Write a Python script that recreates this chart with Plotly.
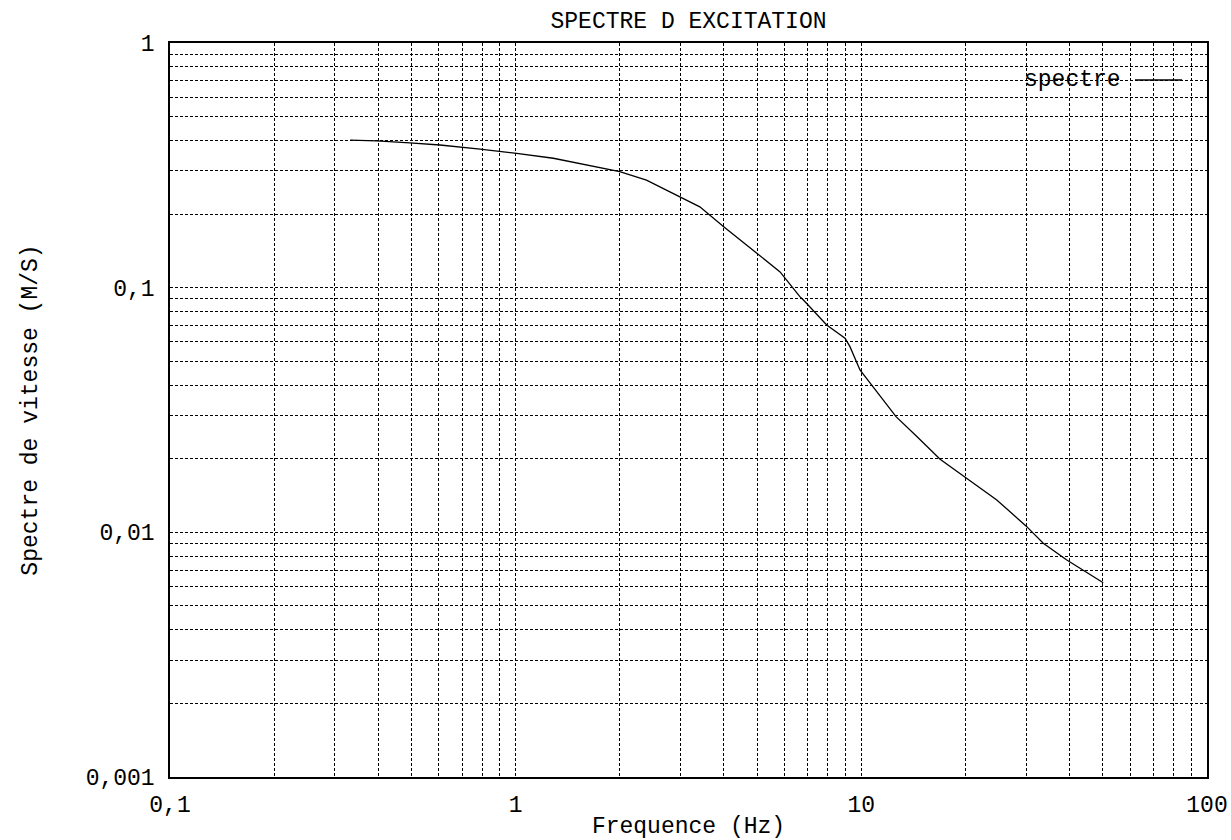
import plotly.graph_objects as go

# Data
freq_hz = [0.332, 0.396, 0.494, 0.604, 0.789, 1.007, 1.285, 2.0, 2.39, 2.99, 3.41, 3.99,
           4.98, 5.82, 6.64, 6.80, 7.94, 8.97, 9.27, 9.91, 10.8, 12.6, 14.5, 16.9, 20.2,
           24.6, 30.0, 33.6, 39.2, 50.1]
vitesse = [0.401, 0.398, 0.391, 0.383, 0.368, 0.354, 0.338, 0.298, 0.275, 0.235, 0.214, 0.178,
           0.138, 0.116, 0.0919, 0.089, 0.0704, 0.0621, 0.0574, 0.0461, 0.0394, 0.0297, 0.0246,
           0.0199, 0.0166, 0.0136, 0.0106, 0.00902, 0.00772, 0.00622]

x_tickvals = [0.1, 1, 10, 100]
x_ticktext = ["0,1", "1", "10", "100"]
y_tickvals = [0.001, 0.01, 0.1, 1]
y_ticktext = ["0,001", "0,01", "0,1", "1"]

title_text = "SPECTRE D EXCITATION"
x_title = "Frequence (Hz)"
y_title = "Spectre de vitesse (M/S)"
series_name = "spectre"

FONT = "Liberation Mono"
FS = 23

fig = go.Figure()
fig.add_trace(go.Scatter(x=freq_hz, y=vitesse, mode="lines", name=series_name,
                         line=dict(color="black", width=1.3), showlegend=False))

axis_common = dict(
    type="log", showline=True, linecolor="black", linewidth=1.5, mirror=True,
    zeroline=False, ticks="", automargin=True,
    tickfont=dict(family=FONT, size=FS, color="black"),
    showgrid=True, gridcolor="black", gridwidth=1, griddash="3px,2px",
    minor=dict(showgrid=True, gridcolor="black", gridwidth=1, griddash="3px,2px",
               ticks="", dtick="D1"),
)

fig.update_xaxes(range=[-1, 2], tickvals=x_tickvals, ticktext=x_ticktext,
                 ticklabelstandoff=6,
                 title=dict(text=x_title, font=dict(family=FONT, size=FS, color="black"),
                            standoff=9),
                 **axis_common)
fig.update_yaxes(range=[-3, 0], tickvals=y_tickvals, ticktext=y_ticktext,
                 ticklabelstandoff=9,
                 title=dict(text=y_title, font=dict(family=FONT, size=FS, color="black"),
                            standoff=42),
                 **axis_common)

fig.add_annotation(text=series_name, xref="paper", yref="paper", x=0.919, y=0.9496,
                   xanchor="right", yanchor="middle", showarrow=False,
                   font=dict(family=FONT, size=FS, color="black"))
fig.add_shape(type="line", xref="paper", yref="paper", x0=0.9306, x1=0.976,
              y0=0.9496, y1=0.9496, line=dict(color="black", width=1.3))

fig.update_layout(
    width=1231, height=840,
    margin=dict(l=170, r=24, t=43, b=63, autoexpand=False),
    paper_bgcolor="white", plot_bgcolor="white",
    title=dict(text=title_text, xref="paper", x=0.5, xanchor="center",
               yref="container", y=0.976, yanchor="middle",
               font=dict(family=FONT, size=FS, color="black")),
)

fig.write_html("out.html", config={"displayModeBar": False},
               post_script="document.body.style.margin='0';document.body.style.overflow='hidden';")
